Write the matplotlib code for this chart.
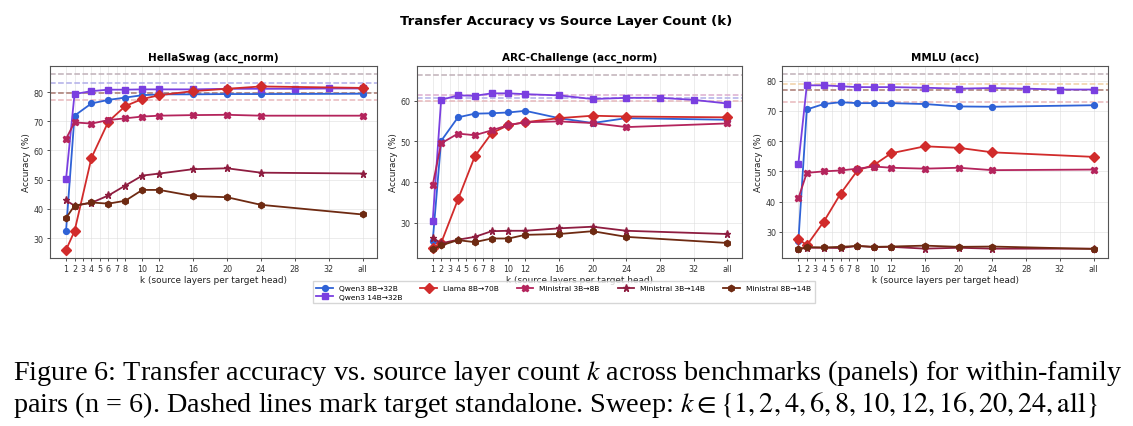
import matplotlib
matplotlib.use("Agg")
import matplotlib.pyplot as plt

# ── data ──────────────────────────────────────────────────────────────────────
K_MAIN = ["1", "2", "4", "6", "8", "10", "12", "16", "20", "24", "all"]
K_DENSE = ["1", "2", "4", "6", "8", "10", "12", "16", "20", "24", "28", "32", "all"]
TICK_LABELS = ["1", "2", "3", "4", "5", "6", "7", "8", "10", "12", "16", "20", "24", "28", "32", "all"]

PAIRS = ["Qwen3 8B→32B", "Qwen3 14B→32B", "Llama 8B→70B",
         "Ministral 3B→8B", "Ministral 3B→14B", "Ministral 8B→14B"]

hella_qwen8 = [32.6, 71.9, 76.1, 77.3, 78.1, 78.9, 79.2, 79.2, 79.3, 79.3, 79.4]
hella_qwen14 = [50.3, 79.3, 80.3, 80.8, 80.8, 80.9, 80.9, 80.9, 81.1, 81.1, 81.1, 81.2, 81.2]
hella_llama = [26.0, 32.4, 57.5, 69.9, 75.2, 77.6, 78.9, 80.3, 81.1, 81.9, 81.4]
hella_m3_8 = [64.0, 69.6, 69.2, 70.4, 71.0, 71.6, 71.9, 72.1, 72.2, 71.9, 71.9]
hella_m3_14 = [42.9, 41.1, 42.1, 44.6, 48.0, 51.4, 52.1, 53.6, 53.9, 52.4, 52.1]
hella_m8_14 = [36.9, 41.1, 42.2, 41.8, 42.8, 46.5, 46.5, 44.4, 44.0, 41.4, 38.1]
hella_targets = [86.0, 83.0, 79.5, 77.1]

arc_qwen8 = [25.5, 50.1, 55.9, 56.8, 56.9, 57.1, 57.5, 55.7, 54.5, 55.7, 55.3]
arc_qwen14 = [30.5, 60.2, 61.3, 61.2, 61.8, 61.8, 61.6, 61.3, 60.4, 60.7, 60.7, 60.2, 59.3]
arc_llama = [23.7, 25.0, 35.7, 46.3, 52.0, 54.0, 54.7, 55.7, 56.3, 56.1, 55.9]
arc_m3_8 = [39.3, 49.5, 51.9, 51.5, 52.7, 54.0, 54.7, 54.9, 54.5, 53.5, 54.4]
arc_m3_14 = [26.3, 24.9, 25.8, 26.5, 27.9, 28.0, 28.0, 28.6, 29.0, 28.0, 27.2]
arc_m8_14 = [23.5, 24.4, 25.7, 25.2, 26.1, 26.1, 27.0, 27.2, 27.9, 26.5, 25.0]
arc_targets = [66.3, 61.3, 60.6, 60.0]

mmlu_qwen8 = [26.9, 70.5, 72.3, 72.9, 72.6, 72.6, 72.6, 72.3, 71.5, 71.4, 71.9]
mmlu_qwen14 = [52.5, 78.5, 78.5, 78.2, 77.9, 77.9, 77.9, 77.7, 77.4, 77.6, 77.4, 77.1, 77.1]
mmlu_llama = [27.7, 25.5, 33.3, 42.6, 50.3, 52.2, 56.0, 58.3, 57.8, 56.3, 54.8]
mmlu_m3_8 = [41.1, 49.5, 50.0, 50.3, 50.9, 51.6, 51.2, 50.9, 51.2, 50.4, 50.6]
mmlu_m3_14 = [24.2, 24.7, 24.7, 24.6, 25.3, 24.9, 25.0, 24.4, 24.7, 24.4, 24.4]
mmlu_m8_14 = [24.2, 24.9, 24.8, 25.0, 25.3, 25.0, 25.1, 25.4, 25.0, 25.1, 24.3]
mmlu_targets = [82.1, 78.8, 77.1, 72.9]

# ── style ─────────────────────────────────────────────────────────────────────
ALL_X = 36
COLORS = ["#2f62d6", "#7a3fe0", "#d12b2b", "#b4245c", "#8e1d40", "#6e2a12"]
MARKERS = ["o", "s", "D", "X", "*", "h"]
MSIZES = [4.2, 4.2, 4.6, 4.6, 5.2, 4.6]

panels = [
    ("HellaSwag (acc_norm)",
     [hella_qwen8, hella_qwen14, hella_llama, hella_m3_8, hella_m3_14, hella_m8_14],
     hella_targets, ["#c0b0b8", "#b0aee8", "#a87870", "#e8b8bc"],
     (23.2, 89.0), [30, 40, 50, 60, 70, 80]),
    ("ARC-Challenge (acc_norm)",
     [arc_qwen8, arc_qwen14, arc_llama, arc_m3_8, arc_m3_14, arc_m8_14],
     arc_targets, ["#c0b0b8", "#dcaed0", "#b0aee8", "#e8b8bc"],
     (21.3, 68.6), [30, 40, 50, 60]),
    ("MMLU (acc)",
     [mmlu_qwen8, mmlu_qwen14, mmlu_llama, mmlu_m3_8, mmlu_m3_14, mmlu_m8_14],
     mmlu_targets, ["#c0b0b8", "#f0d0a4", "#a87870", "#e8b8bc"],
     (21.3, 85.0), [30, 40, 50, 60, 70, 80]),
]


def kpos(labels):
    return [ALL_X if k == "all" else int(k) for k in labels]


fig = plt.figure(figsize=(11.33, 4.27), dpi=100)
lefts = [0.0441, 0.3678, 0.6905]
widths = [0.2886, 0.2868, 0.2875]

handles = []
for i, (title, series, targets, tcolors, ylim, yticks) in enumerate(panels):
    ax = fig.add_axes([lefts[i], 0.3934, widths[i], 0.4504])
    for t, c in zip(targets, tcolors):
        ax.axhline(t, color=c, linestyle="--", linewidth=1.1, zorder=1)
    for j, vals in enumerate(series):
        ks = K_DENSE if len(vals) == len(K_DENSE) else K_MAIN
        (ln,) = ax.plot(kpos(ks), vals, marker=MARKERS[j], color=COLORS[j],
                        markersize=MSIZES[j], linewidth=1.3, label=PAIRS[j], zorder=3)
        if i == 0:
            handles.append(ln)
    ax.set_xlim(-0.9, 37.7)
    ax.set_ylim(*ylim)
    ax.set_xticks(kpos(TICK_LABELS))
    ax.set_xticklabels(TICK_LABELS)
    ax.set_yticks(yticks)
    ax.tick_params(labelsize=5.8, length=2.5, width=0.6, pad=2, colors="#333333")
    ax.grid(True, color="#dddddd", linewidth=0.5, alpha=0.8)
    ax.set_axisbelow(True)
    for s in ax.spines.values():
        s.set_color("#555555")
        s.set_linewidth(0.8)
    ax.set_title(title, fontsize=7.5, fontweight="bold", pad=4)
    ax.set_xlabel("k (source layers per target head)", fontsize=6.4, labelpad=1, color="#222222")
    ax.set_ylabel("Accuracy (%)", fontsize=6.4, labelpad=2, color="#222222")

fig.suptitle("Transfer Accuracy vs Source Layer Count (k)", fontsize=9.5,
             fontweight="bold", y=0.965)

fig.legend(handles=handles, loc="upper center", bbox_to_anchor=(0.4975, 0.348),
           ncol=5, fontsize=5.4, frameon=True, handlelength=2.2, columnspacing=2.4,
           borderpad=0.5, labelspacing=0.3, edgecolor="#cccccc", fancybox=False)

plt.rcParams["mathtext.fontset"] = "stix"
cap1 = ("Figure 6: Transfer accuracy vs. source layer count $k$ across benchmarks "
        "(panels) for within-family")
cap2 = ("pairs (n = 6). Dashed lines mark target standalone. Sweep: "
        "$k \\in \\{1, 2, 4, 6, 8, 10, 12, 16, 20, 24, \\mathrm{all}\\}$")
fig.text(0.0115, 1 - 373 / 427, cap1, fontsize=20.3, family="Liberation Serif",
         va="center", ha="left")
fig.text(0.0115, 1 - 405 / 427, cap2, fontsize=20.3, family="Liberation Serif",
         va="center", ha="left")

fig.savefig("out.png", dpi=100)
